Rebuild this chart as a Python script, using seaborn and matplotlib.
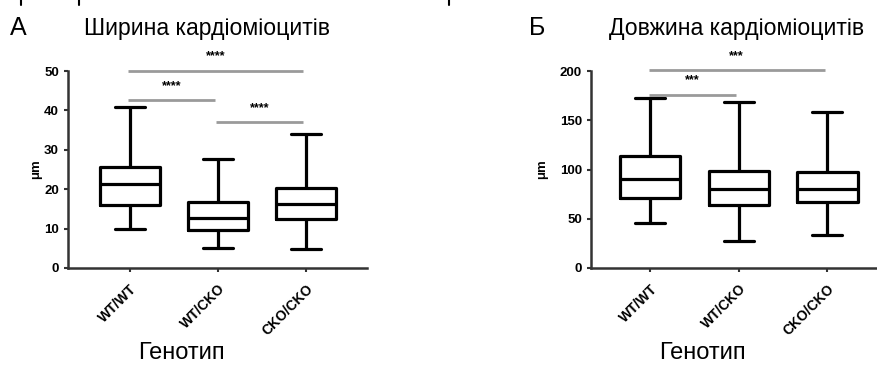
import matplotlib
matplotlib.use('Agg')
import matplotlib.pyplot as plt
from matplotlib.lines import Line2D
import pandas as pd
import seaborn as sns

genotypes = ['WT/WT', 'WT/CKO', 'CKO/CKO']

# five-number summaries: min, Q1, median, Q3, max
width_wt_wt = [9.9, 16.0, 21.2, 25.7, 40.8]
width_wt_cko = [5.0, 9.6, 12.6, 16.7, 27.7]
width_cko_cko = [4.7, 12.4, 16.2, 20.2, 33.9]

length_wt_wt = [45.7, 71.5, 90.0, 113.4, 172.6]
length_wt_cko = [27.0, 64.4, 80.0, 98.2, 168.5]
length_cko_cko = [33.2, 67.4, 80.6, 97.5, 158.0]

# significance bars: group a, group b, height, label
width_sig = [(0, 2, 50, '****'), (0, 1, 42.6, '****'), (1, 2, 37, '****')]
length_sig = [(0, 2, 201, '***'), (0, 1, 176, '***')]

sns.set_style('ticks')
plt.rcParams['font.family'] = ['Liberation Sans', 'DejaVu Sans']
plt.rcParams['text.color'] = 'black'
plt.rcParams['axes.labelcolor'] = 'black'
plt.rcParams['xtick.labelcolor'] = 'black'
plt.rcParams['ytick.labelcolor'] = 'black'


def to_frame(groups):
    rows = []
    for name, vals in zip(genotypes, groups):
        for v in vals:
            rows.append({'genotype': name, 'value': v})
    return pd.DataFrame(rows)


width_df = to_frame([width_wt_wt, width_wt_cko, width_cko_cko])
length_df = to_frame([length_wt_wt, length_wt_cko, length_cko_cko])

fig = plt.figure(figsize=(8.77, 3.65), dpi=100)
ax1 = fig.add_axes([68 / 877, 1 - 268 / 365, 299 / 877, 197 / 365])
ax2 = fig.add_axes([591 / 877, 1 - 268 / 365, 286 / 877, 197 / 365])


def draw(ax, df, sig, ymax, yticks, xlim, ylab_x, xlab_x):
    sns.boxplot(data=df, x='genotype', y='value', order=genotypes, ax=ax,
                fill=False, color='black', linewidth=2.3, width=0.68,
                whis=(0, 100), showfliers=False)
    ax.set_ylim(0, ymax)
    ax.set_xlim(*xlim)
    ax.set_yticks(yticks)
    sns.despine(ax=ax)
    for s in ['left', 'bottom']:
        ax.spines[s].set_linewidth(1.8)
        ax.spines[s].set_color('#333333')
    ax.tick_params(length=3, width=1.5, color='#333333', labelsize=9.5)
    for lab in ax.get_yticklabels():
        lab.set_fontweight('bold')
    ax.set_xticks(range(len(genotypes)))
    ax.set_xticklabels(genotypes, rotation=45, ha='right',
                       rotation_mode='anchor', fontweight='bold', fontsize=10)
    ax.tick_params(axis='x', pad=7)
    ax.set_ylabel('μm', fontsize=9.5, fontweight='bold')
    ax.yaxis.set_label_coords(ylab_x, 0.5)
    ax.set_xlabel('Генотип', fontsize=17, va='center')
    ax.xaxis.set_label_coords(xlab_x, -0.43)
    for a, b, y, txt in sig:
        ax.plot([a - 0.02, b - 0.03], [y, y], color='#9a9a9a', lw=2,
                clip_on=False, solid_capstyle='butt')
        ax.annotate(txt, xy=((a + b) / 2 - 0.03, y), xytext=(0, 6),
                    textcoords='offset points', ha='center', va='bottom',
                    fontsize=9, fontweight='bold', annotation_clip=False)


draw(ax1, width_df, width_sig, 50, [0, 10, 20, 30, 40, 50],
     (-0.70, 2.69), -0.087, 0.378)
draw(ax2, length_df, length_sig, 200, [0, 50, 100, 150, 200],
     (-0.67, 2.56), -0.150, 0.388)

fig.text(18 / 877, 1 - 28 / 365, 'А', fontsize=18, ha='center', va='center')
fig.text(207 / 877, 1 - 28 / 365, 'Ширина кардіоміоцитів', fontsize=16.6,
         ha='center', va='center')
fig.text(537 / 877, 1 - 28 / 365, 'Б', fontsize=18, ha='center', va='center')
fig.text(737 / 877, 1 - 28 / 365, 'Довжина кардіоміоцитів', fontsize=16.6,
         ha='center', va='center')

# small cut-off marks along the top edge of the original image
for px in [21, 79, 449]:
    fig.add_artist(Line2D([px / 877, px / 877], [1, 1 - 5 / 365],
                          color='black', lw=1.5))

fig.savefig('out.png', dpi=100)
